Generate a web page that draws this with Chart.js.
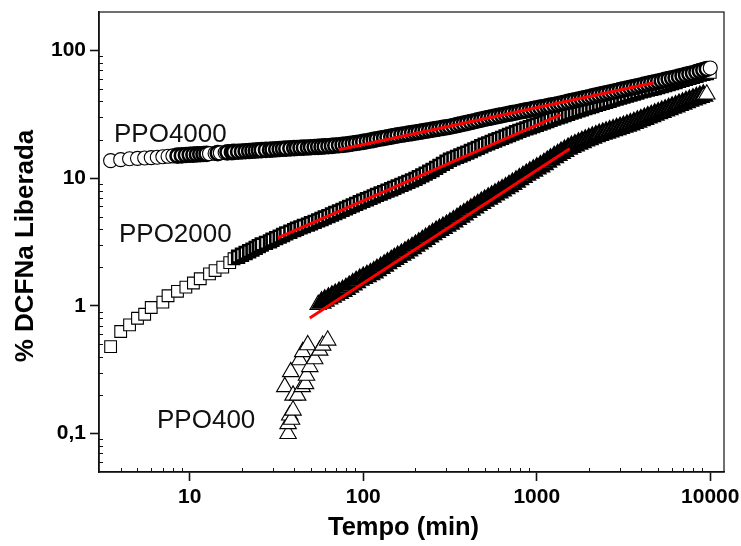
<!DOCTYPE html>
<html lang="pt">
<head>
<meta charset="utf-8">
<title>Liberação de DCFNa</title>
<script src="https://cdn.jsdelivr.net/npm/chart.js@4.4.1/dist/chart.umd.min.js"></script>
<style>
  html, body { margin: 0; padding: 0; background: #fff; overflow: hidden; }
  canvas { display: block; }
</style>
</head>
<body>
<canvas id="grafico" width="741" height="546"></canvas>
<script>
// Eixos
const ticksX = [10, 100, 1000, 10000];
const rotulosX = ['10', '100', '1000', '10000'];
const ticksY = [0.1, 1, 10, 100];
const rotulosY = ['0,1', '1', '10', '100'];

// Tempos de coleta comuns (min)
const tempoDenso = [
  10, 10.5, 11, 11.5, 12, 12.5, 13, 14, 14.5, 15, 16, 16.5, 17.5, 18, 19, 20, 21, 22, 23, 24,
  25, 26, 27.5, 29, 30, 31.5, 33, 34.5, 36, 38, 40, 41.5, 43.5, 45.5, 48, 50, 52.5, 55, 57.5, 60,
  63, 66, 69, 72.5, 76, 79.5, 83, 87, 91, 95.5,
  100, 105, 110, 115, 120, 126, 132, 138, 145, 151, 158, 166, 174, 182, 191, 200, 209, 219, 229, 240,
  251, 263, 275, 288, 302, 316, 331, 347, 363, 380, 398, 417, 437, 457, 479, 501, 525, 550, 575, 603,
  631, 661, 692, 724, 759, 794, 832, 871, 912, 955,
  1000, 1050, 1100, 1150, 1200, 1260, 1320, 1380, 1445, 1515, 1585, 1660, 1740, 1820, 1905, 1995, 2090, 2190, 2290, 2400,
  2510, 2630, 2755, 2885, 3020, 3160, 3310, 3465, 3630, 3800, 3980, 4170, 4365, 4570, 4785, 5010, 5250, 5495, 5755, 6025,
  6310, 6605, 6920, 7245, 7585, 7945, 8320, 8710, 9120, 9550, 10000
];

// PPO4000 (círculos)
const tempoPPO4000 = [3.5, 4, 4.5, 5, 5.5, 6, 6.5, 7, 7.5, 8, 8.5, 9, 9.5].concat(tempoDenso);
const liberadoPPO4000 = [
  13.71, 13.96, 14.19, 14.29, 14.39, 14.49, 14.59, 14.72, 14.83, 14.93, 15.00, 15.07, 15.17,
  15.24, 15.29, 15.34, 15.39, 15.44, 15.49, 15.56, 15.63, 15.70, 15.78,
  15.85, 15.92, 15.98, 16.05, 16.11, 16.18, 16.25, 16.31, 16.38, 16.45,
  16.52, 16.58, 16.64, 16.70, 16.76, 16.83, 16.90, 16.97, 17.04, 17.11,
  17.18, 17.24, 17.29, 17.35, 17.40, 17.46, 17.52, 17.59, 17.65, 17.72,
  17.78, 17.89, 18.00, 18.10, 18.21, 18.32, 18.50, 18.68, 18.86, 19.04,
  19.23, 19.46, 19.70, 19.94, 20.17, 20.42, 20.65, 20.89, 21.13, 21.38,
  21.63, 21.85, 22.07, 22.30, 22.52, 22.75, 22.99, 23.24, 23.48, 23.73,
  23.99, 24.24, 24.50, 24.76, 25.03, 25.29, 25.64, 26.00, 26.36, 26.73,
  27.10, 27.50, 27.91, 28.32, 28.74, 29.17, 29.55, 29.94, 30.33, 30.72,
  31.12, 31.51, 31.90, 32.30, 32.70, 33.11, 33.52, 33.94, 34.37, 34.80,
  35.24, 35.66, 36.09, 36.53, 36.97, 37.41, 37.93, 38.46, 38.99, 39.54,
  40.09, 40.67, 41.25, 41.84, 42.45, 43.05, 43.67, 44.30, 44.93, 45.58,
  46.24, 46.88, 47.53, 48.19, 48.87, 49.55, 50.25, 50.97, 51.70, 52.45,
  53.21, 53.97, 54.75, 55.54, 56.34, 57.15, 57.97, 58.81, 59.65, 60.51,
  61.38, 62.35, 63.33, 64.33, 65.35, 66.37, 67.64, 68.93, 70.24, 71.58,
  72.95
];

// PPO2000 (quadrados)
const tempoPPO2000 = [3.5, 4, 4.5, 5, 5.5, 6, 7, 7.5, 8.5, 9.5, 10.5, 11.5, 13, 14, 15.5, 17]
  .concat(tempoDenso.slice(13));
const liberadoPPO2000 = [
  0.48, 0.63, 0.71, 0.80, 0.86, 0.97, 1.07, 1.20, 1.30, 1.40, 1.51, 1.63, 1.78, 1.89, 2.01, 2.18,
  2.339, 2.424, 2.512, 2.592, 2.675, 2.760, 2.848, 2.938,
  3.023, 3.110, 3.200, 3.293, 3.388, 3.488, 3.590, 3.696, 3.805, 3.917,
  4.017, 4.118, 4.222, 4.328, 4.436, 4.550, 4.669, 4.790, 4.916, 5.047,
  5.188, 5.333, 5.483, 5.636, 5.794, 5.957, 6.124, 6.295, 6.471, 6.653,
  6.830, 7.012, 7.199, 7.390, 7.586, 7.780, 7.980, 8.185, 8.395, 8.610,
  8.848, 9.092, 9.342, 9.598, 9.863, 10.19, 10.52, 10.86, 11.22, 11.59,
  12.02, 12.47, 12.94, 13.43, 13.93, 14.29, 14.67, 15.05, 15.45, 15.85,
  16.31, 16.78, 17.27, 17.77, 18.28, 18.74, 19.21, 19.70, 20.19, 20.70,
  21.22, 21.76, 22.31, 22.87, 23.44, 23.97, 24.50, 25.05, 25.60, 26.18,
  26.76, 27.36, 27.97, 28.60, 29.24, 29.88, 30.53, 31.20, 31.89, 32.58,
  33.25, 33.93, 34.62, 35.33, 36.06, 36.74, 37.44, 38.16, 38.89, 39.63,
  40.38, 41.15, 41.94, 42.74, 43.55, 44.36, 45.19, 46.03, 46.88, 47.75,
  48.51, 49.27, 50.05, 50.83, 51.64, 52.60, 53.58, 54.58, 55.59, 56.62,
  57.70, 58.81, 59.93, 61.07, 62.23, 63.39, 64.57, 65.46, 66.37, 67.30
];

// PPO400 (triângulos)
const tempoPPO400 = [35.3, 36.9, 36.9, 37.7, 38.2, 38.6, 39.4, 39.4, 41.9, 43, 44.5, 44.8, 46.5, 47.1, 47.9, 49.2, 52.5, 56.1, 58.4, 62.4]
  .concat(tempoDenso.slice(37, 150));
const liberadoPPO400 = [
  0.232, 0.0996, 0.119, 0.139, 0.304, 0.129, 0.152, 0.199, 0.199, 0.377,
  0.232, 0.436, 0.245, 0.285, 0.494, 0.333, 0.384, 0.448, 0.490, 0.537,
  1.022, 1.060, 1.099, 1.141,
  1.181, 1.221, 1.263, 1.306, 1.354, 1.411, 1.471, 1.534, 1.599, 1.654,
  1.710, 1.768, 1.829, 1.902, 1.982, 2.066, 2.153, 2.242, 2.328, 2.418,
  2.511, 2.608, 2.718, 2.833, 2.953, 3.078, 3.210, 3.347, 3.491, 3.641,
  3.790, 3.934, 4.083, 4.239, 4.400, 4.589, 4.786, 4.991, 5.205, 5.429,
  5.662, 5.905, 6.158, 6.408, 6.653, 6.908, 7.173, 7.441, 7.727, 8.025,
  8.332, 8.652, 9.012, 9.393, 9.790, 10.21, 10.62, 11.03, 11.46, 11.90,
  12.36, 12.88, 13.43, 14.00, 14.59, 15.17, 15.75, 16.36, 16.99, 17.55,
  18.07, 18.61, 19.15, 19.70, 20.21, 20.73, 21.26, 21.80, 22.27, 22.73,
  23.20, 23.69, 24.19, 24.71, 25.23, 25.77, 26.34, 27.01, 27.70, 28.41,
  29.13, 29.87, 30.62, 31.40, 32.19, 33.01, 33.85, 34.71, 35.60, 36.50,
  37.42, 38.36, 39.33, 40.32, 41.28, 42.27, 43.27, 44.30, 45.37
];

// Retas de ajuste (lei de potência: extremos de cada reta)
const ajusteTempo4000 = [72.3, 4724];
const ajusteValor4000 = [16.7, 55.9];
const ajusteTempo2000 = [32.2, 1375];
const ajusteValor2000 = [3.41, 31.4];
const ajusteTempo400 = [49.2, 1549];
const ajusteValor400 = [0.805, 17.0];

// Identificação das séries (âncora em coordenadas de dados)
const nomesSeries = ['PPO4000', 'PPO2000', 'PPO400'];
const nomeTempo = [3.66, 3.91, 6.48];
const nomeValor = [19.3, 3.17, 0.110];

const FONTE = "'Liberation Sans', Arial, Helvetica, sans-serif";

const pontos = (xs, ys) => xs.map((x, i) => ({ x: x, y: ys[i] }));

// Contorno mais grosso onde os marcadores ficam colados aos dois vizinhos
function contorno(ctx) {
  const chart = ctx.chart;
  const sx = chart.scales && chart.scales.x;
  const sy = chart.scales && chart.scales.y;
  const dados = ctx.dataset && ctx.dataset.data;
  const i = ctx.dataIndex;
  if (!sx || !sy || !dados || i === undefined) return 1.1;
  const p = dados[i];
  const dist = (q) => {
    if (!q) return Infinity;
    const dx = sx.getPixelForValue(q.x) - sx.getPixelForValue(p.x);
    const dy = sy.getPixelForValue(q.y) - sy.getPixelForValue(p.y);
    return Math.hypot(dx, dy);
  };
  const maior = Math.max(dist(dados[i - 1]), dist(dados[i + 1]));
  return maior < 4.8 ? 2.6 : 1.1;
}

const marcador = (forma, raio) => ({
  showLine: false,
  pointStyle: forma,
  pointRadius: raio,
  pointHoverRadius: raio,
  pointBorderColor: '#000',
  pointBackgroundColor: '#fff',
  pointBorderWidth: contorno
});

const reta = (xs, ys) => ({
  data: pontos(xs, ys),
  showLine: true,
  borderColor: '#ff0000',
  borderWidth: 3,
  pointRadius: 0,
  fill: false,
  order: 0
});

// Moldura, marcas secundárias, nomes das séries e títulos dos eixos
const decoracao = {
  id: 'decoracao',
  afterDraw(chart) {
    const c = chart.ctx;
    const a = chart.chartArea;
    const sx = chart.scales.x, sy = chart.scales.y;
    c.save();

    // marcas secundárias voltadas para dentro
    c.strokeStyle = '#111';
    c.lineWidth = 1;
    c.beginPath();
    for (let d = -2; d <= 4; d++) {
      for (let m = 2; m <= 9; m++) {
        const v = m * Math.pow(10, d);
        if (v > sx.min && v < sx.max) {
          const p = Math.round(sx.getPixelForValue(v)) + 0.5;
          c.moveTo(p, a.bottom);
          c.lineTo(p, a.bottom - 4);
        }
        if (v > sy.min && v < sy.max) {
          const p = Math.round(sy.getPixelForValue(v)) + 0.5;
          c.moveTo(a.left, p);
          c.lineTo(a.left + 4, p);
        }
      }
    }
    c.stroke();

    // moldura
    c.lineWidth = 1.2;
    c.strokeStyle = '#111';
    c.strokeRect(a.left, a.top, a.right - a.left, a.bottom - a.top);

    // nomes das séries
    c.fillStyle = '#111';
    c.font = '26px ' + FONTE;
    c.textAlign = 'left';
    c.textBaseline = 'alphabetic';
    nomesSeries.forEach((n, i) => {
      c.fillText(n, sx.getPixelForValue(nomeTempo[i]), sy.getPixelForValue(nomeValor[i]));
    });

    // títulos dos eixos
    c.fillStyle = '#000';
    c.font = 'bold 25.5px ' + FONTE;
    c.textAlign = 'center';
    c.fillText('Tempo (min)', (a.left + a.right) / 2 - 8, a.bottom + 63);

    c.translate(a.left - 66, (a.top + a.bottom) / 2 + 4);
    c.rotate(-Math.PI / 2);
    c.font = 'bold 26px ' + FONTE;
    c.fillText('% DCFNa Liberada', 0, 0);
    c.restore();
  }
};

const eixoLog = (min, max, ticks, rotulos, ajuste) => ({
  type: 'logarithmic',
  min: min,
  max: max,
  bounds: 'data',
  afterBuildTicks: (s) => { s.ticks = ticks.map(v => ({ value: v })); },
  afterFit: ajuste,
  grid: {
    display: true,
    drawOnChartArea: false,
    drawTicks: true,
    tickLength: 9,
    tickWidth: 1.6,
    tickColor: '#111'
  },
  border: { display: true, color: '#111', width: 1.6 },
  ticks: {
    autoSkip: false,
    maxRotation: 0,
    minRotation: 0,
    padding: 4,
    color: '#000',
    font: { family: FONTE, size: 21, weight: 'bold' },
    callback: (v) => {
      const i = ticks.indexOf(v);
      return i >= 0 ? rotulos[i] : '';
    }
  }
});

new Chart(document.getElementById('grafico'), {
  type: 'scatter',
  data: {
    datasets: [
      reta(ajusteTempo4000, ajusteValor4000),
      reta(ajusteTempo2000, ajusteValor2000),
      reta(ajusteTempo400, ajusteValor400),
      Object.assign({ label: 'PPO4000', data: pontos(tempoPPO4000, liberadoPPO4000), order: 1 }, marcador('circle', 7)),
      Object.assign({ label: 'PPO2000', data: pontos(tempoPPO2000, liberadoPPO2000), order: 2 }, marcador('rect', 8.3)),
      Object.assign({ label: 'PPO400', data: pontos(tempoPPO400, liberadoPPO400), order: 3 }, marcador('triangle', 9.5))
    ]
  },
  options: {
    responsive: false,
    animation: false,
    devicePixelRatio: 1,
    events: [],
    layout: { padding: { top: 12, right: 17, left: 0, bottom: 0 } },
    plugins: {
      legend: { display: false },
      tooltip: { enabled: false },
      title: { display: false }
    },
    scales: {
      x: eixoLog(3, 12000, ticksX, rotulosX, (s) => { s.height = 74; s.paddingLeft = 0; s.paddingRight = 0; }),
      y: eixoLog(0.05, 200, ticksY, rotulosY, (s) => { s.width = 99; s.paddingTop = 0; s.paddingBottom = 0; })
    }
  },
  plugins: [decoracao]
});
</script>
</body>
</html>
